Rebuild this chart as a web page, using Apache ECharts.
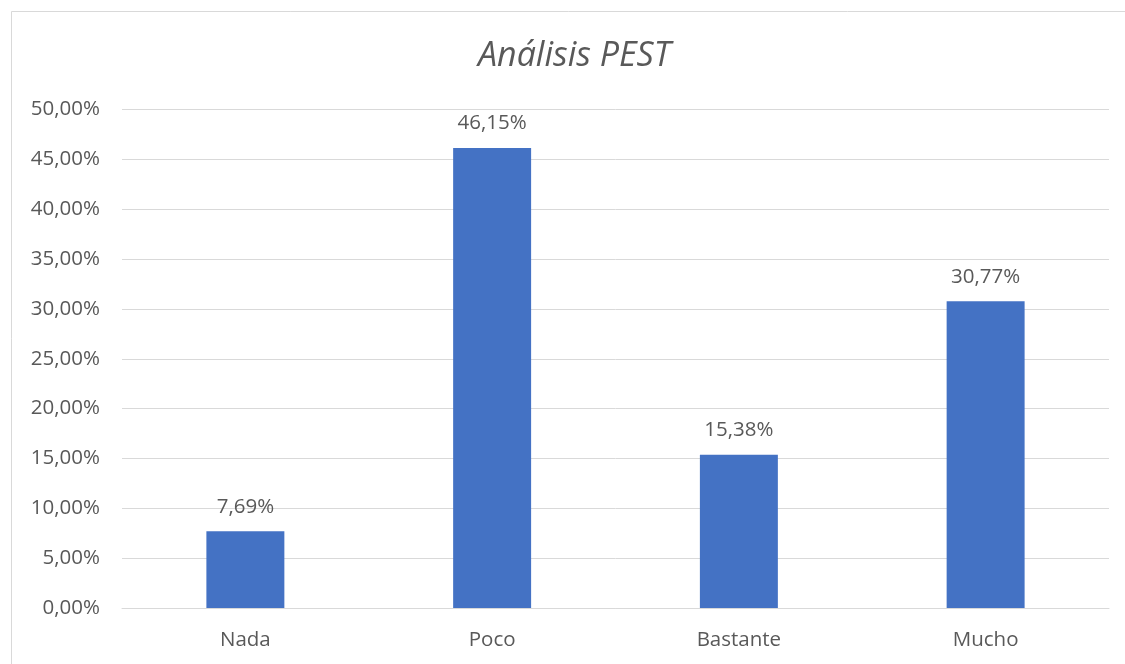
<!DOCTYPE html>
<html>
<head>
<meta charset="utf-8">
<script src="https://cdn.jsdelivr.net/npm/echarts@6/dist/echarts.min.js"></script>
<style>
  html, body { margin: 0; padding: 0; background: #ffffff; }
  #chart { width: 1125px; height: 664px; }
</style>
</head>
<body>
<div id="chart"></div>
<script>
// Grado de uso del análisis PEST (porcentaje de respuestas)
const categories = ['Nada', 'Poco', 'Bastante', 'Mucho'];
const values = [7.69, 46.15, 15.38, 30.77];
const yMin = 0;
const yMax = 50;
const yStep = 5;

const fmtPct = (v, decimals) => v.toFixed(decimals).replace('.', ',') + '%';
const textColor = '#595959';
const fontFamily = '"Open Sans", "Noto Sans", sans-serif';
const labelSize = 20.5;

const chart = echarts.init(document.getElementById('chart'), null, { renderer: 'canvas' });
chart.setOption({
  backgroundColor: '#ffffff',
  animation: false,
  textStyle: { fontFamily: fontFamily },
  graphic: [{
    type: 'rect',
    shape: { x: 11.5, y: 11.5, width: 1140, height: 700 },
    style: { fill: 'none', stroke: '#d9d9d9', lineWidth: 1 },
    silent: true,
    z: -1
  }],
  title: {
    text: 'Análisis PEST',
    left: 478,
    top: 39,
    padding: 0,
    textStyle: {
      fontFamily: fontFamily,
      fontSize: 34,
      fontStyle: 'italic',
      fontWeight: 'normal',
      color: textColor
    }
  },
  grid: { left: 122, right: 16, top: 109.5, bottom: 56 },
  xAxis: {
    type: 'category',
    data: categories,
    axisLine: { show: true, lineStyle: { color: '#d9d9d9', width: 1 } },
    axisTick: { show: false },
    axisLabel: { color: textColor, fontSize: labelSize, margin: 22, fontFamily: fontFamily },
    splitLine: { show: false }
  },
  yAxis: {
    type: 'value',
    min: yMin,
    max: yMax,
    interval: yStep,
    axisLine: { show: false },
    axisTick: { show: false },
    axisLabel: {
      color: textColor,
      fontSize: labelSize,
      margin: 22,
      fontFamily: fontFamily,
      formatter: v => fmtPct(v, 2)
    },
    splitLine: { lineStyle: { color: '#d9d9d9', width: 1 } }
  },
  series: [{
    type: 'bar',
    data: values,
    barWidth: '31.6%',
    itemStyle: { color: '#4472c4' },
    label: {
      show: true,
      position: 'top',
      distance: 14,
      color: textColor,
      fontSize: labelSize,
      fontFamily: fontFamily,
      formatter: p => fmtPct(p.value, 2)
    }
  }]
});
</script>
</body>
</html>
